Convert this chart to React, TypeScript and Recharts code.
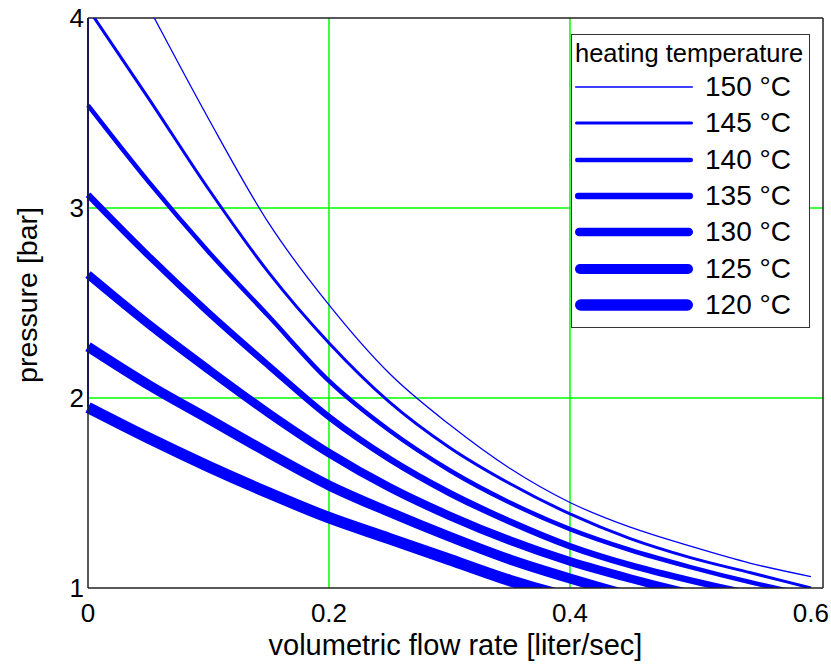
import React from "react";
import {
  LineChart,
  Line,
  XAxis,
  YAxis,
  CartesianGrid,
  ReferenceLine,
} from "recharts";

// volumetric flow rate [liter/sec]
const flowRate = [0, 0.05, 0.1, 0.15, 0.2, 0.25, 0.3, 0.35, 0.4, 0.45, 0.5, 0.55, 0.6];

// pressure [bar] per heating temperature
const p150 = [4.66, 4.06, 3.47, 2.92, 2.49, 2.13, 1.86, 1.63, 1.45, 1.32, 1.22, 1.13, 1.06];
const p145 = [4.05, 3.58, 3.1, 2.66, 2.29, 1.98, 1.74, 1.55, 1.39, 1.26, 1.16, 1.08, 1.0];
const p140 = [3.54, 3.14, 2.77, 2.43, 2.09, 1.83, 1.62, 1.45, 1.31, 1.2, 1.11, 1.03, 0.96];
const p135 = [3.07, 2.75, 2.45, 2.17, 1.9, 1.68, 1.5, 1.35, 1.22, 1.12, 1.04, 0.97, 0.91];
const p130 = [2.65, 2.39, 2.15, 1.92, 1.71, 1.53, 1.38, 1.25, 1.14, 1.05, 0.97, 0.9, 0.84];
const p125 = [2.27, 2.07, 1.89, 1.71, 1.54, 1.4, 1.27, 1.15, 1.05, 0.96, 0.89, 0.83, 0.78];
const p120 = [1.95, 1.79, 1.64, 1.5, 1.37, 1.26, 1.15, 1.04, 0.95, 0.88, 0.82, 0.77, 0.73];

const xTicks = [0, 0.2, 0.4, 0.6];
const yTicks = [1, 2, 3, 4];

const series = [
  { key: "t150", label: "150 °C", values: p150, width: 1.3 },
  { key: "t145", label: "145 °C", values: p145, width: 3 },
  { key: "t140", label: "140 °C", values: p140, width: 4.5 },
  { key: "t135", label: "135 °C", values: p135, width: 6.5 },
  { key: "t130", label: "130 °C", values: p130, width: 8.5 },
  { key: "t125", label: "125 °C", values: p125, width: 10 },
  { key: "t120", label: "120 °C", values: p120, width: 11.5 },
];

const rows = flowRate.map((q, i) => {
  const row: Record<string, number> = { flow: q };
  series.forEach((s) => (row[s.key] = s.values[i]));
  return row;
});

const BLUE = "#0000ff";
const GREEN = "#00ff00";
const FRAME = "#222";
const FONT = "'Liberation Sans', Arial, sans-serif";

function XLabel({ viewBox }: any) {
  return (
    <text
      x={viewBox.x + viewBox.width / 2}
      y={viewBox.y + 67}
      textAnchor="middle"
      fontSize={29}
      fill="#000"
    >
      volumetric flow rate [liter/sec]
    </text>
  );
}

function YLabel({ viewBox }: any) {
  const cx = viewBox.x + 27;
  const cy = viewBox.y + viewBox.height / 2 - 8;
  return (
    <text
      x={cx}
      y={cy}
      transform={`rotate(-90 ${cx} ${cy})`}
      textAnchor="middle"
      dominantBaseline="central"
      fontSize={28.5}
      fill="#000"
    >
      pressure [bar]
    </text>
  );
}

function LegendBox() {
  return (
    <div
      style={{
        position: "absolute",
        left: 571,
        top: 34,
        width: 234,
        border: "1px solid #333",
        background: "#fff",
        padding: "2px 0 4px 3px",
        fontFamily: FONT,
      }}
    >
      <div style={{ fontSize: 25.5, lineHeight: "32px", color: "#000" }}>
        heating temperature
      </div>
      {series.map((s) => (
        <div
          key={s.key}
          style={{ display: "flex", alignItems: "center", height: 36.3 }}
        >
          <svg width={118} height={16} style={{ display: "block" }}>
            <line
              x1={s.width / 2}
              y1={8}
              x2={118 - s.width / 2}
              y2={8}
              stroke={BLUE}
              strokeWidth={s.width}
              strokeLinecap="round"
            />
          </svg>
          <span
            style={{
              marginLeft: 12,
              fontSize: 28,
              lineHeight: "36px",
              color: "#000",
            }}
          >
            {s.label}
          </span>
        </div>
      ))}
    </div>
  );
}

export default function App() {
  return (
    <div
      style={{
        position: "absolute",
        left: 0,
        top: 0,
        width: 831,
        height: 671,
        background: "#fff",
        fontFamily: FONT,
      }}
    >
      <LineChart
        width={831}
        height={671}
        data={rows}
        margin={{ top: 18, right: 8, left: 0, bottom: 0 }}
      >
        <CartesianGrid
          stroke={GREEN}
          strokeWidth={1.5}
          verticalValues={[0.2, 0.4]}
          horizontalValues={[2, 3]}
        />
        <XAxis
          dataKey="flow"
          type="number"
          domain={[0, 0.61]}
          ticks={xTicks}
          height={83}
          tickLine={false}
          tickSize={6}
          tickMargin={10}
          axisLine={{ stroke: FRAME, strokeWidth: 1.5 }}
          tick={{ fontSize: 26, fill: "#000" }}
          label={<XLabel />}
        />
        <YAxis
          type="number"
          domain={[1, 4]}
          ticks={yTicks}
          allowDataOverflow
          width={88}
          tickLine={false}
          tickSize={2}
          tickMargin={2}
          axisLine={{ stroke: FRAME, strokeWidth: 1.5 }}
          tick={{ fontSize: 26, fill: "#000" }}
          label={<YLabel />}
        />
        <ReferenceLine y={4} stroke={FRAME} strokeWidth={1.5} />
        <ReferenceLine x={0.61} stroke={FRAME} strokeWidth={1.5} />
        <ReferenceLine
          segment={[
            { x: 0, y: 1.95 },
            { x: 0, y: 4 },
          ]}
          stroke={BLUE}
          strokeWidth={2}
        />
        {[...series].reverse().map((s) => (
          <Line
            key={s.key}
            type="monotone"
            dataKey={s.key}
            stroke={BLUE}
            strokeWidth={s.width}
            dot={false}
            activeDot={false}
            isAnimationActive={false}
          />
        ))}
      </LineChart>
      <LegendBox />
    </div>
  );
}
